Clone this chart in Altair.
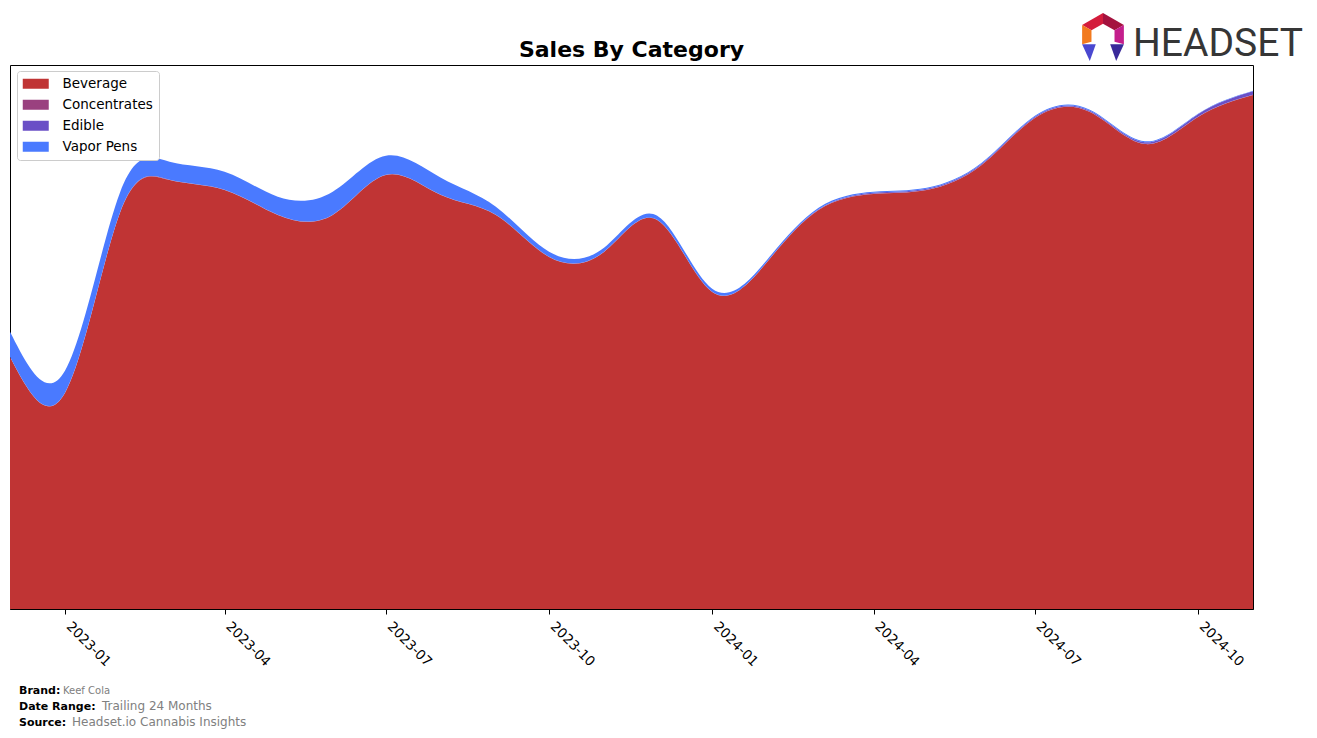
import altair as alt
import pandas as pd

months = ["2022-12-01", "2023-01-01", "2023-02-01", "2023-03-01", "2023-04-01", "2023-05-01",
          "2023-06-01", "2023-07-01", "2023-08-01", "2023-09-01", "2023-10-01", "2023-11-01",
          "2023-12-01", "2024-01-01", "2024-02-01", "2024-03-01", "2024-04-01", "2024-05-01",
          "2024-06-01", "2024-07-01", "2024-08-01", "2024-09-01", "2024-10-01", "2024-11-01"]
beverage = [252, 216, 396, 429, 419, 394, 394, 434, 414, 394, 352, 357,
            389, 317, 347, 399, 415, 419, 444, 491, 497, 465, 492, 514]
concentrates = [0.3] * 24
edible = [0, 0, 0, 0, 0, 0, 0, 0, 0, 0, 0, 0,
          0, 0, 0, 0.5, 1, 1, 1, 1, 1, 1.5, 2.5, 3.5]
vapor_pens = [25, 22, 20, 18, 18, 18, 23, 19, 17, 8, 5, 4,
              4, 3, 2, 1.5, 1, 1, 1, 1, 1, 1, 0.5, 0.5]
categories = ["Beverage", "Concentrates", "Edible", "Vapor Pens"]
colors = ["#c03434", "#9a417f", "#6a4fc6", "#4a7aff"]
tick_months = ["2023-01-01", "2023-04-01", "2023-07-01", "2023-10-01",
               "2024-01-01", "2024-04-01", "2024-07-01", "2024-10-01"]
title_text = "Sales By Category"
footer_labels = ["Brand:", "Date Range:", "Source:"]
footer_values = ["Keef Cola", "Trailing 24 Months", "Headset.io Cannabis Insights"]
logo_text = "HEADSET"


def ms(s):
    return int(pd.Timestamp(s, tz="UTC").value // 1_000_000)


series = [beverage, concentrates, edible, vapor_pens]
rows = []
for i, m in enumerate(months):
    for k, cat in enumerate(categories):
        rows.append({"month": m, "category": cat, "sales": series[k][i], "order": k})
df = pd.DataFrame(rows)

W, H = 1243, 544

area = alt.Chart(df).mark_area(interpolate="natural", opacity=1).encode(
    x=alt.X("month:T",
            scale=alt.Scale(type="utc", domain=[ms(months[0]), ms(months[-1])], nice=False),
            axis=alt.Axis(values=[ms(t) for t in tick_months],
                          labelExpr="utcFormat(datum.value, '%Y-%m')",
                          title=None, grid=False, labelAngle=45, labelAlign="left",
                          labelBaseline="top", labelPadding=5, labelOffset=8,
                          labelFont="DejaVu Sans", labelFontSize=13.5, labelColor="black",
                          tickColor="black", tickSize=5, domainColor="black")),
    y=alt.Y("sales:Q", stack="zero", scale=alt.Scale(domain=[0, H], nice=False), axis=None),
    color=alt.Color("category:N",
                    scale=alt.Scale(domain=categories, range=colors),
                    legend=alt.Legend(title=None, orient="none", legendX=7, legendY=6,
                                      fillColor="white", strokeColor="#cccccc", padding=6,
                                      cornerRadius=3,
                                      symbolType="M-1.4,-1L3.8,-1L3.8,1L-1.4,1Z",
                                      symbolSize=100, symbolStrokeWidth=0, symbolOpacity=1,
                                      labelFont="DejaVu Sans", labelFontSize=13.5,
                                      labelColor="black", labelOffset=26, rowPadding=6)),
    order=alt.Order("order:Q", sort="ascending"),
)

dummy = pd.DataFrame({"a": [0]})
layers = [area]

# title
layers.append(alt.Chart(dummy).mark_text(
    text=title_text, align="center", baseline="alphabetic", font="DejaVu Sans",
    fontSize=22, fontWeight="bold", color="black").encode(
    x=alt.value(W / 2), y=alt.value(-8)))

# footer
label_y = [629, 645, 661]
value_x = [53, 92, 62]
value_sizes = [10, 12, 12]
for i in range(3):
    layers.append(alt.Chart(dummy).mark_text(
        text=footer_labels[i], align="left", baseline="alphabetic", font="DejaVu Sans",
        fontSize=11, fontWeight="bold", color="black").encode(
        x=alt.value(9), y=alt.value(label_y[i])))
    layers.append(alt.Chart(dummy).mark_text(
        text=footer_values[i], align="left", baseline="alphabetic", font="DejaVu Sans",
        fontSize=value_sizes[i], color="#808080").encode(
        x=alt.value(value_x[i]), y=alt.value(label_y[i])))

# logo text
layers.append(alt.Chart(dummy).mark_text(
    text=logo_text, align="left", baseline="alphabetic",
    font="Roboto", fontSize=39,
    color="#363636").encode(x=alt.value(1123), y=alt.value(-9)))

# logo icon pieces
icon_pieces = [
    ("M-0.87,-0.5L0,-1L0,-0.55L-0.48,-0.28Z", "#d41c3c"),
    ("M0,-1L0.87,-0.5L0.48,-0.28L0,-0.55Z", "#a4123e"),
    ("M0.87,-0.5L0.87,0.3L0.48,0.2L0.48,-0.28Z", "#c41e8c"),
    ("M-0.87,-0.5L-0.48,-0.28L-0.48,0.2L-0.87,0.3Z", "#f27a1e"),
    ("M-0.87,0.3L-0.3,0.3L-0.55,1.0Z", "#4a48d0"),
    ("M0.87,0.3L0.3,0.3L0.55,1.0Z", "#3a2a9a"),
]
for path, col in icon_pieces:
    layers.append(alt.Chart(dummy).mark_point(
        shape=path, filled=True, fill=col, opacity=1, strokeWidth=0, size=48 * 48).encode(
        x=alt.value(1093), y=alt.value(-28)))

chart = alt.layer(*layers).properties(
    width=W, height=H,
    autosize=alt.AutoSizeParams(type="none"),
    padding={"left": 2, "top": 57, "right": 56, "bottom": 120},
).configure_view(stroke="black", strokeWidth=1)

chart.save("out.html", embed_options={"renderer": "svg", "actions": False})
